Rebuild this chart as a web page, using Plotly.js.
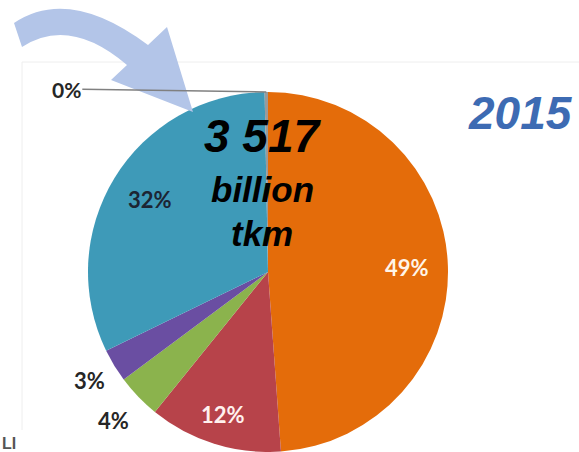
<!DOCTYPE html>
<html><head><meta charset="utf-8">
<script src="https://cdn.plot.ly/plotly-3.0.1.min.js"></script>
<style>html,body{margin:0;padding:0;background:#fff}#chart{width:579px;height:452px}</style>
</head><body><div id="chart"></div>
<script>
// ---- data ----
const categories = ['Road', 'Rail', 'Inland waterways', 'Pipelines', 'Sea', 'Air'];
const shares = [49, 12, 4, 3, 32, 0.3];
const shareLabels = ['49%', '12%', '4%', '3%', '32%', '0%'];
const totalValue = '3 517';
const totalUnit = ['billion', 'tkm'];
const yearLabel = '2015';
const footerText = 'LI';

// ---- style ----
const sliceColors = ['#E46C0A', '#B7434A', '#8BB34D', '#6A4EA2', '#3E9AB8', '#9A9A9A'];
const labelColors = ['#FFF5E8', '#FFF1EE', '#262626', '#262626', '#1C2533', '#262626'];
const labelRadius = [0.77, 0.83, 1.19, 1.16, 0.77, 1.0];
const W = 579, H = 452, CX = 268, CY = 272, R = 180;
const labelFont = 'Lato, "Open Sans", sans-serif';
const boldItalic = '"Liberation Sans", Arial, sans-serif';

const total = shares.reduce((a, b) => a + b, 0);
let cum = 0;
const midAngle = shares.map(v => { const m = (cum + v / 2) / total * 2 * Math.PI; cum += v; return m; });

const annotations = [];
shares.forEach((v, i) => {
  if (i === shares.length - 1) {
    const px = CX + R * Math.sin(midAngle[i]);
    const py = CY - R * Math.cos(midAngle[i]);
    annotations.push({x: px, y: py, xref: 'x', yref: 'y', text: '<b>' + shareLabels[i] + '</b>',
      showarrow: true, arrowhead: 0, arrowwidth: 1.5, arrowcolor: '#808080',
      ax: -200, ay: -3, font: {family: labelFont, size: 21, color: labelColors[i]}});
    return;
  }
  annotations.push({
    x: CX + labelRadius[i] * R * Math.sin(midAngle[i]),
    y: CY - labelRadius[i] * R * Math.cos(midAngle[i]),
    xref: 'x', yref: 'y', showarrow: false,
    text: '<b>' + shareLabels[i] + '</b>',
    font: {family: labelFont, size: 22, color: labelColors[i]}
  });
});

annotations.push({x: 263, y: 136, xref: 'x', yref: 'y', showarrow: false,
  text: '<b><i>' + totalValue + '</i></b>', font: {family: boldItalic, size: 46, color: '#000'}});
annotations.push({x: 262, y: 189, xref: 'x', yref: 'y', showarrow: false,
  text: '<b><i>' + totalUnit[0] + '</i></b>', font: {family: boldItalic, size: 35, color: '#000'}});
annotations.push({x: 262, y: 233, xref: 'x', yref: 'y', showarrow: false,
  text: '<b><i>' + totalUnit[1] + '</i></b>', font: {family: boldItalic, size: 35, color: '#000'}});
annotations.push({x: 466, y: 113, xref: 'x', yref: 'y', xanchor: 'left', showarrow: false,
  text: '<b><i>' + yearLabel + '</i></b>', font: {family: boldItalic, size: 46, color: '#3D6BB3'}});
annotations.push({x: 0, y: 443, xref: 'x', yref: 'y', xanchor: 'left', showarrow: false,
  text: '<b>' + footerText + '</b>', font: {family: boldItalic, size: 16, color: '#555'}});

const data = [
  {type: 'scatter', x: [0], y: [0], mode: 'markers', marker: {opacity: 0}, hoverinfo: 'skip', showlegend: false},
  {
    type: 'pie', labels: categories, values: shares, sort: false, direction: 'clockwise', rotation: 0,
    marker: {colors: sliceColors, line: {width: 0}}, textinfo: 'none', hoverinfo: 'label+percent',
    showlegend: false,
    domain: {x: [(CX - R) / W, (CX + R) / W], y: [(H - CY - R) / H, (H - CY + R) / H]}
  }
];

const layout = {
  width: W, height: H, margin: {l: 0, r: 0, t: 0, b: 0},
  paper_bgcolor: '#fff', plot_bgcolor: 'rgba(0,0,0,0)', showlegend: false,
  xaxis: {range: [0, W], visible: false, fixedrange: true},
  yaxis: {range: [H, 0], visible: false, fixedrange: true},
  shapes: [
    {type: 'line', xref: 'x', yref: 'y', x0: 22, y0: 62, x1: W, y1: 62, line: {color: '#EEEEEE', width: 1}, layer: 'below'},
    {type: 'line', xref: 'x', yref: 'y', x0: 22, y0: 62, x1: 22, y1: 430, line: {color: '#EEEEEE', width: 1}, layer: 'below'},
    {type: 'path', xref: 'x', yref: 'y', layer: 'above',
     path: 'M14,23 Q69,-14 148,45 L167,27 L193,112 L111,80 L127,65 Q69.5,16 22,47 Z',
     fillcolor: '#B3C5E8', line: {width: 0}}
  ],
  annotations: annotations
};

Plotly.newPlot('chart', data, layout, {displayModeBar: false, staticPlot: true});
</script>
</body></html>
